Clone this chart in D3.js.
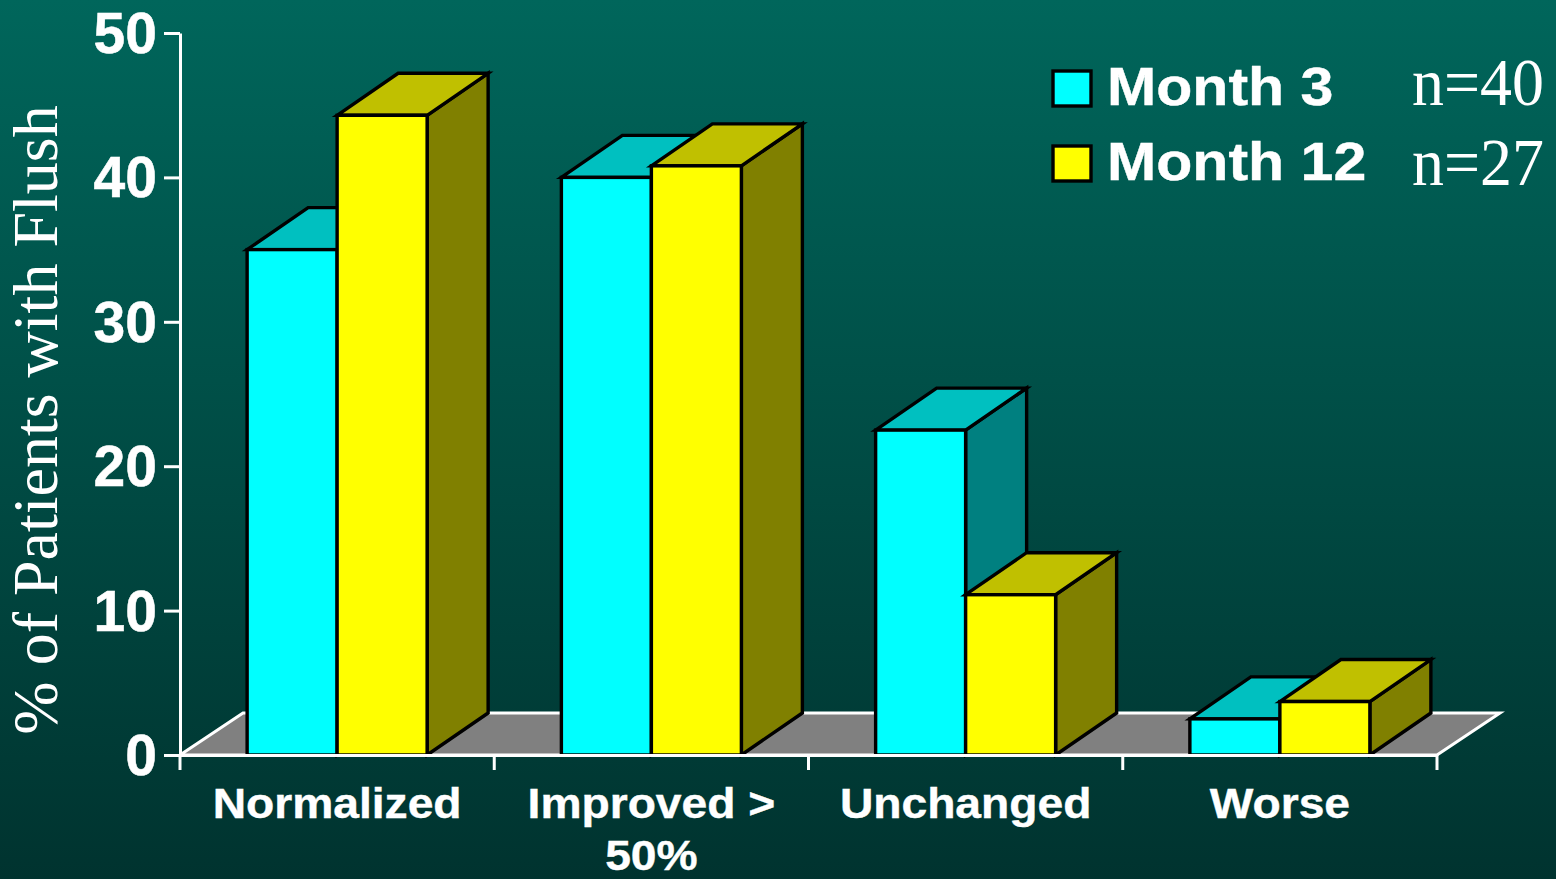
<!DOCTYPE html>
<html><head><meta charset="utf-8">
<script src="https://cdn.jsdelivr.net/npm/d3@7"></script>
<style>html,body{margin:0;padding:0;background:#003530;overflow:hidden}svg{display:block}</style>
</head><body>
<svg id="c" width="1556" height="879"></svg>
<script>
const categories = ["Normalized", "Improved > 50%", "Unchanged", "Worse"];
const month3 = [35, 40, 22.5, 2.5];
const month12 = [44.3, 40.8, 11.1, 3.7];
const seriesNames = ["Month 3", "Month 12"];
const seriesN = ["n=40", "n=27"];
const yTicks = [0, 10, 20, 30, 40, 50];
const yTitle = "% of Patients with Flush";
const frontColors = ["#00ffff", "#ffff00"];
const topColors = ["#00c0c0", "#c0c000"];
const sideColors = ["#008080", "#808000"];

const svg = d3.select("#c");
const grad = svg.append("defs").append("linearGradient").attr("id", "bg").attr("x1", 0).attr("x2", 0).attr("y1", 0).attr("y2", 1);
grad.append("stop").attr("offset", 0).attr("stop-color", "#00665b");
grad.append("stop").attr("offset", 1).attr("stop-color", "#00332f");
svg.append("rect").attr("width", 1556).attr("height", 879).attr("fill", "url(#bg)");

const plotLeft = 180, plotRight = 1437, plotBase = 755, plotTop = 33, dx = 61, dy = -42;
const x = d3.scaleBand().domain(categories).range([plotLeft, plotRight]);
const y = d3.scaleLinear().domain([0, 50]).range([plotBase, plotTop]);
const sub = d3.scaleBand().domain([0, 1]).range([x.bandwidth() / 2 - 90, x.bandwidth() / 2 + 90]);

// floor
svg.append("path")
  .attr("d", d3.line()([[plotLeft, plotBase], [plotLeft + 63, plotBase - 42], [plotRight + 63, plotBase - 42], [plotRight, plotBase]]) + "Z")
  .attr("fill", "#808080").attr("stroke", "#fff").attr("stroke-width", 3);

// bars
categories.forEach((c, i) => {
  [month3, month12].forEach((vals, s) => {
    const x0 = x(c) + sub(s), x1 = x0 + sub.bandwidth(), yt = y(vals[i]), yb = y(0);
    const g = svg.append("g").attr("stroke", "#000").attr("stroke-width", 3.4);
    g.append("path").attr("fill", sideColors[s])
      .attr("d", d3.line()([[x1, yt], [x1 + dx, yt + dy], [x1 + dx, yb + dy], [x1, yb]]) + "Z");
    g.append("path").attr("fill", topColors[s])
      .attr("d", d3.line()([[x0, yt], [x0 + dx, yt + dy], [x1 + dx, yt + dy], [x1, yt]]) + "Z");
    g.append("rect").attr("x", x0).attr("y", yt).attr("width", x1 - x0).attr("height", yb - yt).attr("fill", frontColors[s]);
  });
});

// axes
const yAxis = svg.append("g").attr("transform", `translate(${plotLeft},0)`)
  .call(d3.axisLeft(y).tickValues(yTicks).tickSize(16).tickSizeOuter(0).tickPadding(7));
const xAxis = svg.append("g").attr("transform", `translate(0,${plotBase})`)
  .call(d3.axisBottom(x).tickSize(0).tickPadding(0));
xAxis.selectAll(".tick text").remove();
[plotLeft, ...categories.map(c => x(c) + x.bandwidth())].forEach(px => {
  xAxis.append("line").attr("x1", px).attr("x2", px).attr("y1", 0).attr("y2", 15).attr("stroke", "#fff").attr("stroke-width", 3);
});
[yAxis, xAxis].forEach(a => {
  a.selectAll("path.domain").attr("stroke", "#fff").attr("stroke-width", 3);
  a.selectAll(".tick line").attr("stroke", "#fff").attr("stroke-width", 3);
});
yAxis.selectAll(".tick text")
  .attr("fill", "#fff").attr("stroke", "#fff").attr("stroke-width", 0.5)
  .attr("font-family", "Liberation Sans").attr("font-weight", "bold").attr("font-size", 57)
  .attr("dy", "19.5px");

// category labels
const catLines = [["Normalized"], ["Improved >", "50%"], ["Unchanged"], ["Worse"]];
categories.forEach((c, i) => {
  catLines[i].forEach((t, j) => {
    svg.append("text").attr("text-anchor", "middle")
      .attr("transform", `translate(${x(c) + x.bandwidth() / 2},${818 + j * 52}) scale(1.1,1)`)
      .attr("fill", "#fff").attr("stroke", "#fff").attr("stroke-width", 0.4)
      .attr("font-family", "Liberation Sans").attr("font-weight", "bold").attr("font-size", 42).text(t);
  });
});

// y title
svg.append("text").attr("text-anchor", "middle")
  .attr("transform", "translate(57,420) rotate(-90)")
  .attr("fill", "#fff").attr("font-family", "Liberation Serif").attr("font-size", 64).text(yTitle);

// legend
seriesNames.forEach((n, i) => {
  const ly = 71 + i * 75;
  svg.append("rect").attr("x", 1053).attr("y", ly).attr("width", 38).attr("height", 35)
    .attr("fill", frontColors[i]).attr("stroke", "#000").attr("stroke-width", 3.4);
  svg.append("text").attr("transform", `translate(1107,${ly + 34}) scale(1.115,1)`)
    .attr("fill", "#fff").attr("stroke", "#fff").attr("stroke-width", 0.4)
    .attr("font-family", "Liberation Sans").attr("font-weight", "bold").attr("font-size", 53).text(n);
  svg.append("text").attr("transform", `translate(1412,${ly + 34 + i * 5}) scale(0.94,1)`)
    .attr("fill", "#fff").attr("font-family", "Liberation Serif").attr("font-size", 68).text(seriesN[i]);
});
</script>
</body></html>
